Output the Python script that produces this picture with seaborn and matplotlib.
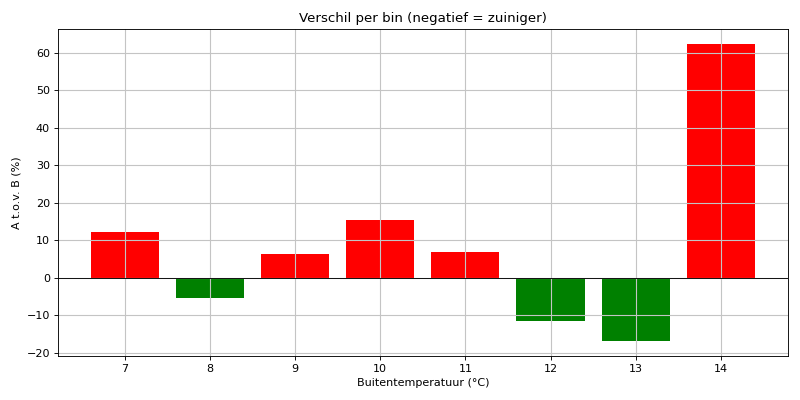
import pandas as pd
import seaborn as sns
import matplotlib.pyplot as plt

temps = [7, 8, 9, 10, 11, 12, 13, 14]
diff_pct = [12.3, -5.3, 6.3, 15.4, 7.0, -11.5, -16.8, 62.5]

df = pd.DataFrame({'temp': temps, 'diff': diff_pct})
df['kleur'] = ['zuiniger' if d < 0 else 'duurder' for d in df['diff']]

fig, ax = plt.subplots(figsize=(10, 5), dpi=80)
sns.barplot(data=df, x='temp', y='diff', hue='kleur', native_scale=True,
            palette={'duurder': 'red', 'zuiniger': 'green'}, saturation=1,
            width=0.8, legend=False, dodge=False, ax=ax)
ax.axhline(0, color='black', linewidth=0.8)
ax.grid(True, color='#c4c4c4', linewidth=1.0)
ax.set_xticks(temps)
ax.set_title('Verschil per bin (negatief = zuiniger)')
ax.set_xlabel('Buitentemperatuur (°C)')
ax.set_ylabel('A t.o.v. B (%)')
plt.tight_layout()
plt.savefig('out.png')
